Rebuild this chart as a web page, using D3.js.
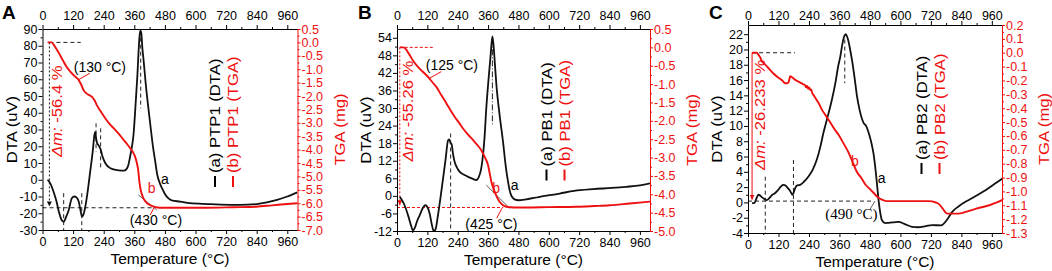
<!DOCTYPE html>
<html>
<head>
<meta charset="utf-8">
<script src="https://cdn.jsdelivr.net/npm/d3@7"></script>
<style>
  body { margin: 0; background: #fff; }
  svg { display: block; font-family: 'Liberation Sans', Arial, sans-serif; }
</style>
</head>
<body>
<svg id="chart" width="1052" height="271"></svg>
<script>
// ---- tick labels ----
const tempTicks = [0, 120, 240, 360, 480, 600, 720, 840, 960];
const dtaTicksA = [-30, -20, -10, 0, 10, 20, 30, 40, 50, 60, 70, 80, 90];
const tgaTicksA = [0.5, 0, -0.5, -1, -1.5, -2, -2.5, -3, -3.5, -4, -4.5, -5, -5.5, -6, -6.5, -7];
const dtaTicksB = [-12, -6, 0, 6, 12, 18, 24, 30, 36, 42, 48, 54];
const tgaTicksB = [0.5, 0, -0.5, -1, -1.5, -2, -2.5, -3, -3.5, -4, -4.5, -5];
const dtaTicksC = [-4, -2, 0, 2, 4, 6, 8, 10, 12, 14, 16, 18, 20, 22];
const tgaTicksC = [0.2, 0.1, 0, -0.1, -0.2, -0.3, -0.4, -0.5, -0.6, -0.7, -0.8, -0.9, -1, -1.1, -1.2, -1.3];

// ---- series: [temperature °C, value] ----
const ptp1Dta = [[20,0],[30,-2],[43,-7],[55,-13],[64,-19],[75,-24],[83,-25],[93,-22],[103,-18],[115,-11],[125,-10],[133,-10.5],[142,-13],[150,-19],[155,-22],[160,-21],[168,-16],[178,-6],[187,4.8],[197,17],[204,27],[207,28.5],[210,25],[214,22],[220,20.5],[227,18.5],[235,14],[246,10],[260,7.5],[279,6.2],[300,5.6],[318,5.4],[330,6.5],[337,9],[345,15],[352,21],[357,27],[365,45],[372,62],[378,80],[383,89],[387,88],[392,78],[396,72],[405,57],[415,43],[425,30],[433,20],[441,12],[450,3],[460,-2],[470,-5.5],[480,-8.5],[493,-11],[510,-12.5],[540,-13],[578,-14],[650,-14.5],[700,-14.8],[773,-15],[840,-14.5],[880,-13.5],[920,-12],[960,-10],[1000,-7.5]];
const ptp1Tga = [[20,0],[35,0],[45,-0.1],[55,-0.25],[70,-0.5],[83,-0.72],[95,-0.92],[109,-1.09],[125,-1.25],[142,-1.4],[152,-1.58],[161,-1.78],[175,-1.92],[194,-2.03],[205,-2.18],[213,-2.34],[230,-2.6],[246,-2.83],[262,-3.03],[279,-3.2],[300,-3.42],[318,-3.64],[332,-3.8],[344,-3.95],[355,-4.1],[363,-4.26],[370,-4.5],[376,-4.82],[380,-5.2],[385,-5.5],[396,-5.82],[410,-6.0],[422,-6.07],[440,-6.14],[461,-6.17],[550,-6.17],[643,-6.17],[750,-6.15],[838,-6.13],[900,-6.08],[960,-6.03],[1000,-6.0]];

const pb1Dta = [[11,-0.3],[20,-1.5],[30,-3.2],[45,-7],[55,-10],[63,-11.8],[70,-11],[80,-8.5],[90,-6.6],[100,-4.5],[112,-3.2],[120,-3.8],[129,-6],[137,-9.5],[145,-12],[152,-11.5],[162,-6.6],[172,-0.5],[182,5.9],[192,12.5],[202,19],[207,19.3],[212,18],[215,17.9],[222,14],[228,11.6],[238,9.5],[248,8.2],[265,7.2],[281,6.5],[300,5.8],[313,5.4],[325,6.8],[333,9.4],[340,14],[346,20],[353,30],[362,40],[370,48],[377,54.5],[381,52],[387,45],[393,37.8],[405,28],[419,18.5],[430,10],[439,4.8],[448,1],[456,-0.5],[465,-1.2],[480,-1.5],[511,-1.2],[560,-0.4],[643,0.8],[700,1.7],[775,2.3],[850,2.7],[906,3.1],[960,3.6],[1000,4.3]];
const pb1Tga = [[11,0],[25,0],[35,-0.05],[50,-0.21],[65,-0.38],[83,-0.53],[100,-0.65],[122,-0.8],[140,-0.95],[155,-1.07],[175,-1.3],[195,-1.52],[212,-1.72],[228,-1.89],[245,-2.05],[261,-2.21],[280,-2.37],[300,-2.52],[318,-2.66],[333,-2.8],[348,-3.0],[360,-3.21],[367,-3.45],[373,-3.66],[380,-3.82],[386,-3.93],[395,-4.08],[406,-4.21],[418,-4.29],[432,-4.34],[460,-4.36],[511,-4.36],[600,-4.35],[709,-4.34],[780,-4.32],[841,-4.3],[920,-4.25],[1000,-4.2]];

const pb2Dta = [[16,-0.1],[25,-0.1],[33,0.5],[41,1.0],[48,0.9],[54,0.7],[62,0.5],[74,0.3],[85,0.6],[96,1.0],[106,1.2],[118,1.6],[130,2.1],[139,2.3],[148,2.2],[156,1.9],[166,1.5],[175,1.0],[179,1.2],[185,1.8],[192,2.2],[205,2.3],[220,2.7],[238,3.4],[255,4.3],[271,5.6],[285,7.3],[297,9.1],[312,11],[330,13.4],[345,15.8],[355,17.8],[363,19],[372,20.8],[380,21.8],[385,22],[390,21.7],[396,21],[402,20],[410,18.5],[420,16.2],[429,13.9],[440,12],[455,10.4],[465,10],[475,9.1],[485,7.9],[494,6.4],[503,4],[509,2],[514,0.3],[520,-1.2],[527,-2.3],[540,-2.7],[553,-2.67],[575,-2.6],[593,-2.54],[615,-2.8],[646,-3.2],[670,-3.25],[700,-3.1],[725,-2.97],[760,-3.0],[770,-2.8],[785,-2.2],[804,-1.23],[830,-0.5],[856,0.08],[880,0.5],[910,1.1],[935,1.6],[970,2.4],[1003,3.15]];
const pb2Tga = [[16,0],[25,0],[35,0.0],[41,-0.015],[50,-0.04],[54,-0.06],[65,-0.08],[80,-0.11],[100,-0.15],[120,-0.18],[135,-0.2],[146,-0.22],[155,-0.22],[159,-0.215],[163,-0.19],[166,-0.17],[172,-0.175],[185,-0.195],[200,-0.21],[215,-0.225],[225,-0.235],[229,-0.25],[233,-0.24],[237,-0.26],[241,-0.25],[245,-0.27],[249,-0.265],[253,-0.29],[260,-0.31],[270,-0.34],[280,-0.37],[291,-0.41],[305,-0.45],[323,-0.5],[340,-0.55],[356,-0.59],[375,-0.65],[396,-0.72],[410,-0.78],[429,-0.86],[445,-0.9],[462,-0.95],[478,-0.98],[494,-1.01],[510,-1.04],[527,-1.06],[545,-1.07],[567,-1.07],[650,-1.07],[711,-1.07],[740,-1.08],[751,-1.09],[765,-1.12],[784,-1.16],[800,-1.16],[830,-1.16],[870,-1.14],[908,-1.12],[950,-1.1],[980,-1.08],[1003,-1.06]];

// ---- legends and annotations ----
const legendA = ['(a) PTP1 (DTA)', '(b) PTP1 (TGA)'];
const legendB = ['(a) PB1 (DTA)', '(b) PB1 (TGA)'];
const legendC = ['(a) PB2 (DTA)', '(b) PB2 (TGA)'];

// [scale, t1, v1, t2, v2, style]
const guidesA = [
  ['tga', 27, 0, 150, 0, 'dash'],
  ['tga', 27, 0, 27, -6.12, 'dotArrow'],
  ['tga', 0, -6.17, 434, -6.17, 'dash'],
  ['dta', 83, -8, 83, -30, 'dash'],
  ['dta', 154, -8, 154, -30, 'dash'],
  ['dta', 210, 33.7, 210, 16.7, 'dash'],
  ['dta', 228, 30.7, 228, 6.8, 'dash'],
  ['dta', 385, 89, 385, 42.7, 'dash'],
  ['tga', 376, -5.69, 448, -6.25, 'thin'],
  ['tga', 186, -1.15, 140, -1.4, 'redThin'],
  ['tga', 422, -6.44, 437, -6.18, 'redThin']
];
const guidesB = [
  ['tga', 11, 0, 142, 0, 'redDash'],
  ['tga', 11, 0, 11, -4.3, 'redDotArrow'],
  ['tga', 0, -4.36, 420, -4.36, 'redDash'],
  ['dta', 212, 21.3, 212, -12, 'dash'],
  ['dta', 377, 53.8, 377, 24.2, 'dashDot'],
  ['tga', 353, -3.75, 445, -4.38, 'thin'],
  ['tga', 175, -0.66, 129, -0.84, 'redThin'],
  ['tga', 394, -4.65, 415, -4.38, 'redThin']
];
const guidesC = [
  ['tga', 16, 0, 185, 0, 'dash'],
  ['tga', 16, 0, 16, -1.06, 'redArrow'],
  ['tga', 0, -1.07, 494, -1.07, 'dash'],
  ['dta', 68, 3.36, 68, -4, 'dash'],
  ['dta', 179, 5.55, 179, -4, 'dash'],
  ['dta', 381, 21.3, 381, 15.6, 'dash'],
  ['tga', 480, -1.13, 500, -1.07, 'thin']
];

// [scale, t, v, text, colour, font]
const notesA = [
  ['tga', 225, -1.09, '(130 °C)', 'k', 'sans'],
  ['tga', 445, -6.81, '(430 °C)', 'k', 'sans'],
  ['tga', 428, -5.63, 'b', 'r', 'sans'],
  ['dta', 480, -2.7, 'a', 'k', 'sans']
];
const notesB = [
  ['tga', 217, -0.62, '(125 °C)', 'k', 'sans'],
  ['tga', 373, -4.95, '(425 °C)', 'k', 'sans'],
  ['tga', 392, -3.97, 'b', 'r', 'sans'],
  ['dta', 465, 2.0, 'a', 'k', 'sans']
];
const notesC = [
  ['tga', 407, -1.2, '(490 °C)', 'k', 'serif'],
  ['tga', 421, -0.82, 'b', 'r', 'sans'],
  ['dta', 526, 2.5, 'a', 'k', 'sans']
];

// mass loss label: [t, v, text]
const massLossA = [55.7, -4.28, '-56.4 %'];
const massLossB = [43.5, -3.11, '-55.26 %'];
const massLossC = [47, -0.846, '-26.233 %'];

const RED = '#ee1010';
const BLACK = '#111';

const panels = [
  { letter: 'A', letterX: 2, left: 42.5, right: 297.5, top: 29, bottom: 230,
    dtaDomain: [-30, 90], tgaDomain: [-7, 0.5], dtaTicks: dtaTicksA, tgaTicks: tgaTicksA,
    dta: ptp1Dta, tga: ptp1Tga, legend: legendA, legendX: 215, legendY: 173,
    guides: guidesA, notes: notesA, massLoss: massLossA },
  { letter: 'B', letterX: 358, left: 397, right: 650, top: 29, bottom: 231,
    dtaDomain: [-12, 57], tgaDomain: [-5, 0.5], dtaTicks: dtaTicksB, tgaTicks: tgaTicksB,
    dta: pb1Dta, tga: pb1Tga, legend: legendB, legendX: 546.5, legendY: 166.5,
    guides: guidesB, notes: notesB, massLoss: massLossB },
  { letter: 'C', letterX: 709, left: 748, right: 1002, top: 25, bottom: 233,
    dtaDomain: [-4, 23.2], tgaDomain: [-1.3, 0.2], dtaTicks: dtaTicksC, tgaTicks: tgaTicksC,
    dta: pb2Dta, tga: pb2Tga, legend: legendC, legendX: 921.5, legendY: 160,
    guides: guidesC, notes: notesC, massLoss: massLossC }
];

const svg = d3.select('#chart');
const defs = svg.append('defs');

// arrow heads
[['arrowBlack', BLACK], ['arrowRed', RED]].forEach(([id, c]) => {
  defs.append('marker')
    .attr('id', id)
    .attr('viewBox', '0 0 6 6')
    .attr('refX', 6).attr('refY', 3)
    .attr('markerWidth', 5).attr('markerHeight', 5)
    .attr('markerUnits', 'userSpaceOnUse')
    .attr('orient', 'auto')
    .append('path').attr('d', 'M0,0L6,3L0,6Z').attr('fill', c);
});

const guideStyles = {
  dash: { stroke: '#222', width: 1, dash: '4,3' },
  redDash: { stroke: RED, width: 1, dash: '3,2' },
  dotArrow: { stroke: '#222', width: 1, dash: '2,2', marker: 'arrowBlack' },
  redDotArrow: { stroke: RED, width: 1, dash: '2,2', marker: 'arrowRed' },
  redArrow: { stroke: RED, width: 1, dash: null, marker: 'arrowRed' },
  dashDot: { stroke: '#222', width: 1, dash: '6,2,1,2' },
  thin: { stroke: '#333', width: 0.8, dash: null },
  redThin: { stroke: RED, width: 1, dash: null }
};

// minor ticks half-way between the major ones
function minorOf(ticks) {
  return d3.pairs(ticks).map(([a, b]) => (a + b) / 2);
}

function styleAxis(sel, color) {
  sel.attr('font-family', null)
    .attr('font-size', 12.5)
    .attr('color', color);
  sel.select('.domain').attr('stroke-width', 1);
}

// vertical (rotated) text, a bit stretched along its length like the source figure
function vtext(g, x, y, str, color, anchor) {
  return g.append('text')
    .attr('transform', `translate(${x},${y}) rotate(-90) scale(1.15,1)`)
    .attr('text-anchor', anchor)
    .attr('dy', '0.35em')
    .attr('font-size', 14.5)
    .attr('fill', color)
    .text(str);
}

function drawPanel(p) {
  const x = d3.scaleLinear().domain([0, 1000]).range([p.left, p.right]);
  const yD = d3.scaleLinear().domain(p.dtaDomain).range([p.bottom, p.top]);
  const yT = d3.scaleLinear().domain(p.tgaDomain).range([p.bottom, p.top]);
  const ys = { dta: yD, tga: yT };
  const g = svg.append('g');

  defs.append('clipPath').attr('id', 'clip' + p.letter)
    .append('rect')
    .attr('x', p.left).attr('y', p.top - 2)
    .attr('width', p.right - p.left).attr('height', p.bottom - p.top + 2);

  // guide lines (dashed markers, tangents, leaders)
  p.guides.forEach(([s, t1, v1, t2, v2, style]) => {
    const st = guideStyles[style];
    const ln = g.append('line')
      .attr('x1', x(t1)).attr('y1', ys[s](v1))
      .attr('x2', x(t2)).attr('y2', ys[s](v2))
      .attr('stroke', st.stroke)
      .attr('stroke-width', st.width)
      .attr('stroke-dasharray', st.dash);
    if (st.marker) ln.attr('marker-end', `url(#${st.marker})`);
  });

  // curves
  const curveG = g.append('g').attr('clip-path', `url(#clip${p.letter})`);
  curveG.append('path')
    .datum(p.dta)
    .attr('fill', 'none')
    .attr('stroke', BLACK)
    .attr('stroke-width', 1.8)
    .attr('stroke-linejoin', 'round')
    .attr('d', d3.line().x(d => x(d[0])).y(d => yD(d[1])).curve(d3.curveMonotoneX));
  curveG.append('path')
    .datum(p.tga)
    .attr('fill', 'none')
    .attr('stroke', RED)
    .attr('stroke-width', 1.9)
    .attr('stroke-linejoin', 'round')
    .attr('d', d3.line().x(d => x(d[0])).y(d => yT(d[1])).curve(d3.curveMonotoneX));

  // axes: bottom
  g.append('g').attr('transform', `translate(0,${p.bottom})`)
    .call(d3.axisBottom(x).tickValues(tempTicks).tickSize(4).tickPadding(3).tickSizeOuter(0).tickFormat(d => d))
    .call(styleAxis, '#000');
  g.append('g').attr('transform', `translate(0,${p.bottom})`)
    .call(d3.axisBottom(x).tickValues(minorOf(tempTicks)).tickSize(2).tickFormat(''))
    .call(s => s.select('.domain').remove());

  // top
  g.append('g').attr('transform', `translate(0,${p.top})`)
    .call(d3.axisTop(x).tickValues(tempTicks).tickSize(4).tickPadding(p.top - 24).tickSizeOuter(0).tickFormat(d => d))
    .call(styleAxis, '#000');
  g.append('g').attr('transform', `translate(0,${p.top})`)
    .call(d3.axisTop(x).tickValues(minorOf(tempTicks)).tickSize(2).tickFormat(''))
    .call(s => s.select('.domain').remove());

  // left DTA
  g.append('g').attr('transform', `translate(${p.left},0)`)
    .call(d3.axisLeft(yD).tickValues(p.dtaTicks).tickSize(4).tickPadding(1).tickSizeOuter(0).tickFormat(d => String(d)))
    .call(styleAxis, '#000');
  g.append('g').attr('transform', `translate(${p.left},0)`)
    .call(d3.axisLeft(yD).tickValues(minorOf(p.dtaTicks)).tickSize(2).tickFormat(''))
    .call(s => s.select('.domain').remove());

  // right TGA (red)
  g.append('g').attr('transform', `translate(${p.right},0)`)
    .call(d3.axisRight(yT).tickValues(p.tgaTicks).tickSize(3).tickPadding(1).tickSizeOuter(0).tickFormat(d => d.toFixed(1)))
    .call(styleAxis, RED);
  g.append('g').attr('transform', `translate(${p.right},0)`)
    .call(d3.axisRight(yT).tickValues(minorOf(p.tgaTicks)).tickSize(2).tickFormat(''))
    .attr('color', RED)
    .call(s => s.select('.domain').remove());

  // axis titles
  const midY = (p.top + p.bottom) / 2;
  g.append('text')
    .attr('x', (p.left + p.right) / 2)
    .attr('y', p.bottom + 34)
    .attr('text-anchor', 'middle')
    .attr('font-size', 15.5)
    .attr('fill', '#000')
    .text('Temperature (°C)');
  vtext(g, p.left - 31, midY, 'DTA (uV)', '#000', 'middle');
  vtext(g, p.right + 42, midY, 'TGA (mg)', RED, 'middle');

  // panel letter
  g.append('text')
    .attr('x', p.letterX).attr('y', 18.5)
    .attr('font-size', 19).attr('font-weight', 'bold')
    .attr('fill', '#000')
    .text(p.letter);

  // legend
  p.legend.forEach((txt, i) => {
    const cx = p.legendX + i * 18;
    const col = i ? RED : '#000';
    vtext(g, cx, p.legendY, txt, col, 'start');
    g.append('line')
      .attr('x1', cx).attr('x2', cx)
      .attr('y1', p.legendY + 3).attr('y2', p.legendY + 14)
      .attr('stroke', col).attr('stroke-width', 2);
  });

  // annotations
  p.notes.forEach(([s, t, v, txt, c, font]) => {
    g.append('text')
      .attr('x', x(t)).attr('y', ys[s](v))
      .attr('text-anchor', 'middle')
      .attr('font-size', font === 'serif' ? 15 : 14)
      .attr('font-family', font === 'serif' ? "'Liberation Serif', 'Times New Roman', serif" : null)
      .attr('fill', c === 'r' ? RED : '#000')
      .text(txt);
  });

  // mass loss label
  const [mt, mv, mtxt] = p.massLoss;
  const ml = vtext(g, x(mt), yT(mv), '', RED, 'start');
  ml.append('tspan').attr('font-style', 'italic').text('Δm: ');
  ml.append('tspan').text(mtxt);
}

panels.forEach(drawPanel);
</script>
</body>
</html>
